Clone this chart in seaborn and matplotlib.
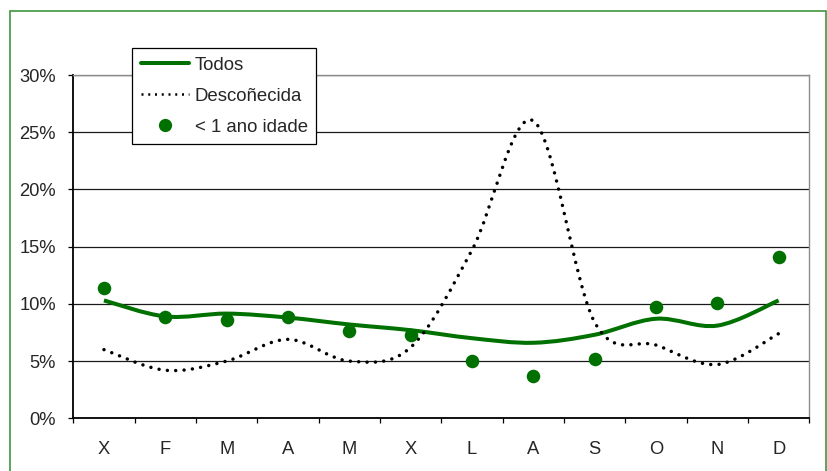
import numpy as np
import pandas as pd
import matplotlib
matplotlib.use("Agg")
import matplotlib.pyplot as plt
from matplotlib.path import Path
from matplotlib.patches import PathPatch, Rectangle
from matplotlib.lines import Line2D
from matplotlib.ticker import PercentFormatter, FixedLocator
import seaborn as sns

# Monthly percentages (Galician month initials)
months = ["X", "F", "M", "A", "M", "X", "L", "A", "S", "O", "N", "D"]
todos = [10.3, 8.9, 9.15, 8.8, 8.2, 7.7, 7.0, 6.6, 7.3, 8.7, 8.1, 10.3]
descoñecida = [6.0, 4.2, 5.0, 6.9, 5.0, 6.2, 14.7, 26.0, 8.4, 6.4, 4.7, 7.4]
menor_1_ano = [11.4, 8.85, 8.6, 8.85, 7.6, 7.25, 5.0, 3.7, 5.2, 9.7, 10.05, 14.1]

GREEN = "#007000"

sns.set_style("white")
plt.rcParams["font.family"] = ["Liberation Sans", "DejaVu Sans"]

df = pd.DataFrame({
    "pos": np.arange(len(months)),
    "mes": months,
    "todos": todos,
    "descoñecida": descoñecida,
    "menor": menor_1_ano,
})


def smooth_path(xs, ys):
    """Cubic Bezier path through the points (spreadsheet-style smoothed line)."""
    pts = np.column_stack([xs, ys]).astype(float)
    n = len(pts)
    verts = [pts[0]]
    codes = [Path.MOVETO]
    for i in range(n - 1):
        p_prev = pts[i - 1] if i > 0 else pts[i]
        p_next2 = pts[i + 2] if i + 2 < n else pts[i + 1]
        c1 = pts[i] + (pts[i + 1] - p_prev) / 6.0
        c2 = pts[i + 1] - (p_next2 - pts[i]) / 6.0
        verts += [c1, c2, pts[i + 1]]
        codes += [Path.CURVE4] * 3
    return Path(verts, codes)


fig = plt.figure(figsize=(8.27, 4.71), dpi=100)
ax = fig.add_axes([73.3 / 827, 1 - 418.3 / 471, (809.3 - 73.3) / 827, (418.3 - 75) / 471])

# outer chart border
fig.patches.append(Rectangle((9.5 / 827, -0.05), (826.0 - 9.5) / 827, 1.05 - 11 / 471,
                             transform=fig.transFigure, fill=False,
                             edgecolor="#3f963f", linewidth=1.2, zorder=0))

# smoothed lines
p_todos = PathPatch(smooth_path(df["pos"], df["todos"]), fill=False,
                    edgecolor=GREEN, linewidth=2.9, capstyle="butt", zorder=3)
ax.add_patch(p_todos)
p_desc = PathPatch(smooth_path(df["pos"], df["descoñecida"]), fill=False,
                   edgecolor="black", linewidth=2.5, linestyle=(0, (0.01, 2.4)), zorder=3)
p_desc.set_capstyle("round")
ax.add_patch(p_desc)

# points for under-one-year series
sns.scatterplot(data=df, x="pos", y="menor", ax=ax, color=GREEN, s=95,
                edgecolor=GREEN, linewidth=0, zorder=4, legend=False)

ax.set_xlim(-0.5, 11.5)
ax.set_ylim(0, 30)
ax.set_xlabel("")
ax.set_ylabel("")

ax.set_yticks(np.arange(0, 31, 5))
ax.yaxis.set_major_formatter(PercentFormatter(decimals=0))
ax.set_xticks(df["pos"])
ax.set_xticklabels(months)
ax.xaxis.set_minor_locator(FixedLocator(np.arange(-0.5, 12, 1)))

ax.tick_params(axis="y", which="major", direction="out", length=3.6, width=0.9,
               color="black", labelsize=13.2, pad=9.0, left=True)
ax.tick_params(axis="x", which="major", length=0, labelsize=13.2, pad=16.0, bottom=True)
ax.tick_params(axis="x", which="minor", direction="out", length=3.6, width=0.9,
               color="black", bottom=True)

ax.yaxis.grid(True, color="#1a1a1a", linewidth=0.9)
ax.xaxis.grid(False)
ax.set_axisbelow(True)

for side in ("left", "bottom"):
    ax.spines[side].set_color("black")
    ax.spines[side].set_linewidth(1.3)
for side in ("top", "right"):
    ax.spines[side].set_visible(True)
    ax.spines[side].set_color("#8c8c8c")
    ax.spines[side].set_linewidth(1.0)

handles = [
    Line2D([], [], color=GREEN, linewidth=2.9),
    Line2D([], [], color="black", linewidth=1.8, linestyle=(0, (0.8, 1.9))),
    Line2D([], [], color=GREEN, marker="o", markersize=8.5, linestyle="none"),
]
labels = ["Todos", "Descoñecida", "< 1 ano idade"]
leg = fig.legend(handles, labels, loc="upper left",
                 bbox_to_anchor=(132.3 / 827, 1 - 48.3 / 471),
                 fontsize=13.4, frameon=True, fancybox=False, framealpha=1,
                 edgecolor="black", handlelength=2.6, handletextpad=0.3,
                 borderpad=0.45, labelspacing=0.75, borderaxespad=0)
leg.get_frame().set_linewidth(0.9)
leg.set_zorder(10)

fig.savefig("out.png", dpi=100)
